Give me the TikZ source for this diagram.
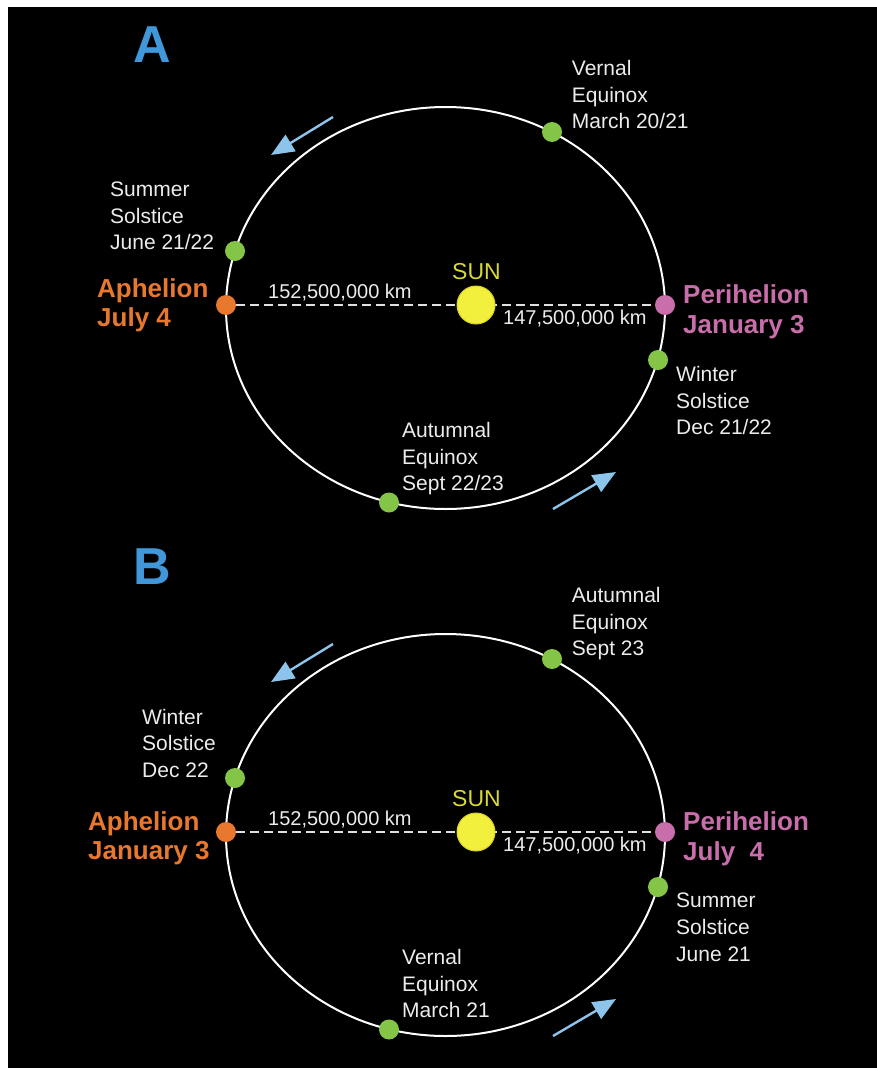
\documentclass[tikz,border=0pt]{standalone}
\usepackage{fontspec}
\setmainfont{Liberation Sans}
\usepackage{xcolor}
\usepackage{tikz}
\usetikzlibrary{arrows.meta,calc}

\definecolor{titleblue}{RGB}{64,152,218}
\definecolor{arrowblue}{RGB}{140,196,236}
\definecolor{aphorange}{RGB}{232,120,45}
\definecolor{periplum}{RGB}{200,110,170}
\definecolor{dotgreen}{RGB}{132,196,70}
\definecolor{sunyellow}{RGB}{242,240,60}
\definecolor{sunedge}{RGB}{215,210,35}
\definecolor{labelgrey}{RGB}{236,236,236}

\begin{document}
\begin{tikzpicture}[
    x=1pt,
    y=-1pt,
    orbitline/.style={
        draw=white,
        line width=2pt
    },
    distline/.style={
        draw=white!88!black,
        line width=1.6pt,
        dash pattern=on 9pt off 5pt
    },
    motionarrow/.style={
        draw=arrowblue,
        line width=2.4pt,
        -{Triangle[length=23pt,width=19pt]}
    },
    seasondot/.style={
        circle,
        fill=dotgreen,
        inner sep=0pt,
        minimum size=20pt
    },
    apsisdot/.style={
        circle,
        fill=#1,
        inner sep=0pt,
        minimum size=20pt
    },
    sunball/.style={
        circle,
        fill=sunyellow,
        draw=sunedge,
        line width=1pt,
        inner sep=0pt,
        minimum size=38pt
    },
    eventlabel/.style={
        text=labelgrey,
        anchor=north west,
        inner sep=0pt,
        align=left,
        font=\fontsize{21}{26.7}\selectfont
    },
    apsislabel/.style={
        text=#1,
        anchor=north west,
        inner sep=0pt,
        align=left,
        font=\bfseries\fontsize{26}{29.5}\selectfont
    },
    kmlabel/.style={
        text=labelgrey,
        anchor=base west,
        inner sep=0pt,
        font=\fontsize{20}{24}\selectfont
    },
    panellabel/.style={
        text=titleblue,
        font=\bfseries\fontsize{52}{60}\selectfont
    }
]

\useasboundingbox (0,0) rectangle (877,1068);
\fill[white] (0,0) rectangle (877,1068);
\fill[black] (8,7) rectangle (877,1068);

% Panel A
\node[panellabel] (titleA) at (152,45) {A};

\draw[orbitline] (445.5,308) ellipse[x radius=219.5pt, y radius=201pt];

\node[apsisdot=aphorange] (aphA) at (226,305) {};
\node[apsisdot=periplum] (periA) at (665,305) {};
\node[seasondot] (vernA) at (552,132) {};
\node[seasondot] (summA) at (235,251) {};
\node[seasondot] (wintA) at (658,360) {};
\node[seasondot] (autuA) at (389,502.5) {};

\draw[distline] (aphA) -- (periA);
\node[sunball] (sunA) at (476,305) {};
\node[text=sunyellow!90!black, anchor=base,
      font=\fontsize{23}{27}\selectfont] (sunnameA) at (476.5,279.3) {SUN};

\node[kmlabel] (farA) at (268,298.3) {152,500,000 km};
\node[kmlabel] (nearA) at (503,324) {147,500,000 km};

\node[apsislabel=aphorange] (aphtextA) at (97,278) {Aphelion\\July 4};
\node[apsislabel=periplum] (peritextA) at (683,284.7) {Perihelion\\January 3};

\node[eventlabel] (verntextA) at (571.7,60) {Vernal\\Equinox\\March 20/21};
\node[eventlabel] (summtextA) at (110,181.7) {Summer\\Solstice\\June 21/22};
\node[eventlabel] (winttextA) at (676,366) {Winter\\Solstice\\Dec 21/22};
\node[eventlabel] (aututextA) at (402,422) {Autumnal\\Equinox\\Sept 22/23};

\coordinate (tailA1) at (333,117);
\coordinate (tipA1) at (271,155);
\draw[motionarrow] (tailA1) -- (tipA1);
\coordinate (tailA2) at (553,509);
\coordinate (tipA2) at (616,472);
\draw[motionarrow] (tailA2) -- (tipA2);

% Panel B
\begin{scope}[shift={(0,527)}]
\node[panellabel] (titleB) at (152,40) {B};

\draw[orbitline] (445.5,308) ellipse[x radius=219.5pt, y radius=201pt];

\node[apsisdot=aphorange] (aphB) at (226,305) {};
\node[apsisdot=periplum] (periB) at (665,305) {};
\node[seasondot] (autuB) at (552,132) {};
\node[seasondot] (wintB) at (235,251) {};
\node[seasondot] (summB) at (658,360) {};
\node[seasondot] (vernB) at (389,502.5) {};

\draw[distline] (aphB) -- (periB);
\node[sunball] (sunB) at (476,305) {};
\node[text=sunyellow!90!black, anchor=base,
      font=\fontsize{23}{27}\selectfont] (sunnameB) at (476.5,279.3) {SUN};

\node[kmlabel] (farB) at (268,298.3) {152,500,000 km};
\node[kmlabel] (nearB) at (503,324) {147,500,000 km};

\node[apsislabel=aphorange] (aphtextB) at (88,284) {Aphelion\\January 3};
\node[apsislabel=periplum] (peritextB) at (683,284.7) {Perihelion\\July\ \ 4};

\node[eventlabel] (aututextB) at (571.7,60) {Autumnal\\Equinox\\Sept 23};
\node[eventlabel] (winttextB) at (142,181.7) {Winter\\Solstice\\Dec 22};
\node[eventlabel] (summtextB) at (676,366) {Summer\\Solstice\\June 21};
\node[eventlabel] (verntextB) at (402,422) {Vernal\\Equinox\\March 21};

\coordinate (tailB1) at (333,117);
\coordinate (tipB1) at (271,155);
\draw[motionarrow] (tailB1) -- (tipB1);
\coordinate (tailB2) at (553,509);
\coordinate (tipB2) at (616,472);
\draw[motionarrow] (tailB2) -- (tipB2);
\end{scope}

\end{tikzpicture}
\end{document}
